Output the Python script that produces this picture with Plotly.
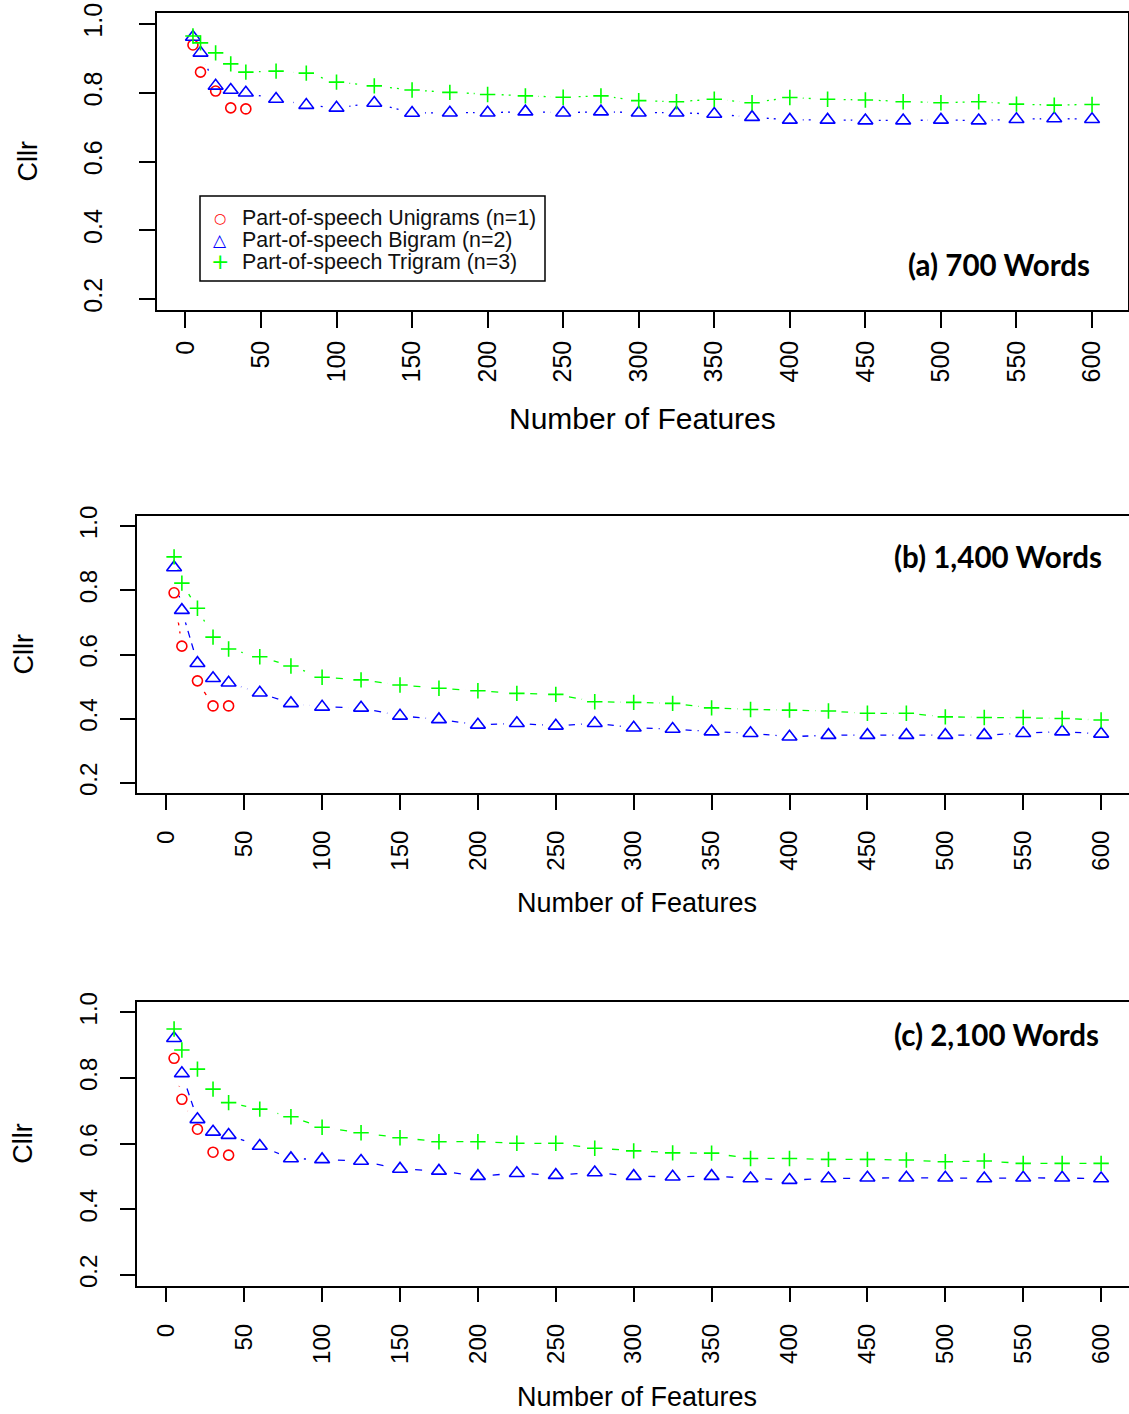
import plotly.graph_objects as go

# ---- data -------------------------------------------------------------
features = [5, 10, 20, 30, 40, 60, 80, 100, 125, 150, 175, 200, 225, 250, 275,
            300, 325, 350, 375, 400, 425, 450, 475, 500, 525, 550, 575, 600]
features_uni = [5, 10, 20, 30, 40]

x_ticks = list(range(0, 601, 50))
y_ticks = [0.2, 0.4, 0.6, 0.8, 1.0]
y_tick_text = ["0.2", "0.4", "0.6", "0.8", "1.0"]

series_names = ["Part-of-speech Unigrams (n=1)",
                "Part-of-speech Bigram (n=2)",
                "Part-of-speech Trigram (n=3)"]

# (a) 700 words
uni_700 = [0.939, 0.860, 0.805, 0.756, 0.753]
bi_700 = [0.962, 0.916, 0.820, 0.808, 0.800, 0.782, 0.764, 0.756, 0.770, 0.741,
          0.742, 0.742, 0.745, 0.742, 0.745, 0.742, 0.742, 0.738, 0.729, 0.721,
          0.721, 0.719, 0.719, 0.721, 0.719, 0.723, 0.725, 0.723]
tri_700 = [0.965, 0.945, 0.916, 0.884, 0.860, 0.863, 0.857, 0.831, 0.820, 0.808,
           0.801, 0.795, 0.791, 0.787, 0.791, 0.777, 0.774, 0.781, 0.771, 0.786,
           0.781, 0.779, 0.774, 0.771, 0.774, 0.767, 0.764, 0.766]

# (b) 1,400 words
uni_1400 = [0.792, 0.626, 0.518, 0.440, 0.440]
bi_1400 = [0.871, 0.738, 0.573, 0.526, 0.512, 0.481, 0.448, 0.437, 0.434, 0.409,
           0.398, 0.381, 0.386, 0.378, 0.386, 0.372, 0.368, 0.360, 0.355, 0.344,
           0.349, 0.349, 0.349, 0.349, 0.349, 0.355, 0.360, 0.353]
tri_1400 = [0.904, 0.822, 0.744, 0.654, 0.617, 0.593, 0.564, 0.529, 0.521, 0.505,
            0.495, 0.487, 0.479, 0.476, 0.453, 0.451, 0.448, 0.434, 0.429, 0.427,
            0.424, 0.417, 0.417, 0.406, 0.404, 0.404, 0.401, 0.396]

# (c) 2,100 words
uni_2100 = [0.860, 0.735, 0.644, 0.574, 0.565]
bi_2100 = [0.921, 0.814, 0.674, 0.636, 0.626, 0.593, 0.555, 0.552, 0.547, 0.523,
           0.517, 0.501, 0.510, 0.504, 0.512, 0.501, 0.499, 0.501, 0.494, 0.489,
           0.494, 0.496, 0.496, 0.496, 0.494, 0.496, 0.496, 0.494]
tri_2100 = [0.949, 0.885, 0.827, 0.766, 0.725, 0.705, 0.682, 0.650, 0.633, 0.618,
            0.606, 0.606, 0.601, 0.601, 0.586, 0.578, 0.572, 0.571, 0.555, 0.555,
            0.552, 0.552, 0.550, 0.545, 0.547, 0.540, 0.540, 0.540]

# ---- styling ----------------------------------------------------------
W, H = 1129, 1414
RED, BLUE, GREEN = "#ff0000", "#0000ff", "#00ff00"
FONT = "Liberation Sans, Arial, sans-serif"

panels = [
    dict(label="(a) 700 Words", data=(uni_700, bi_700, tri_700),
         box=(157, 1128, 13, 310), xmax=623.8, mirror_y=True, dash="2px,5px",
         tick_size=25, title_size=30, cllr_x=28, xtitle=(642, 418),
         label_pos=(1092, 264), x_stand=3, y_stand=27, ticklen=16),
    dict(label="(b) 1,400 Words", data=(uni_1400, bi_1400, tri_1400),
         box=(137, 1129, 515.7, 793.3), xmax=617.9, mirror_y=False, dash="7px,6px",
         tick_size=24, title_size=27, cllr_x=23, xtitle=(637, 903),
         label_pos=(1104, 556), x_stand=11, y_stand=14, ticklen=15),
    dict(label="(c) 2,100 Words", data=(uni_2100, bi_2100, tri_2100),
         box=(137, 1129, 1001.8, 1285.5), xmax=617.9, mirror_y=False, dash="7px,6px",
         tick_size=24, title_size=27, cllr_x=23, xtitle=(637, 1397),
         label_pos=(1101, 1034), x_stand=12, y_stand=14, ticklen=15),
]

colors = [RED, BLUE, GREEN]
symbols = ["circle-open", "triangle-up-open", "cross-thin-open"]
sizes = [10, 13, 11]

fig = go.Figure()
annotations = []
shapes = []

for i, p in enumerate(panels):
    k = "" if i == 0 else str(i + 1)
    xa, ya = "x" + k, "y" + k
    xs_list = [features_uni, features, features]

    # connecting lines, each followed by a white halo so lines stop short of the points
    for s in range(3):
        fig.add_trace(go.Scatter(
            x=xs_list[s], y=p["data"][s], mode="lines", xaxis=xa, yaxis=ya,
            line=dict(color=colors[s], width=1.3, dash=p["dash"]),
            showlegend=False, hoverinfo="skip"))
        fig.add_trace(go.Scatter(
            x=xs_list[s], y=p["data"][s], mode="markers", xaxis=xa, yaxis=ya,
            marker=dict(symbol="circle", size=26, color="white", line=dict(width=0)),
            showlegend=False, hoverinfo="skip"))

    # point symbols
    for s in range(3):
        fig.add_trace(go.Scatter(
            x=xs_list[s], y=p["data"][s], mode="markers", xaxis=xa, yaxis=ya,
            name=series_names[s], showlegend=False,
            marker=dict(symbol=symbols[s], size=sizes[s], color=colors[s],
                        line=dict(color=colors[s], width=1.6))))

    x0, x1, top, bot = p["box"]
    axis_common = dict(showline=True, linecolor="black", linewidth=1.5,
                       ticks="outside", ticklen=p["ticklen"], tickwidth=1.5,
                       tickcolor="black", showgrid=False, zeroline=False,
                       tickangle=-90, automargin=False,
                       tickfont=dict(family=FONT, size=p["tick_size"], color="black"))
    fig.update_layout(**{
        "xaxis" + k: dict(domain=[x0 / W, x1 / W], range=[-18.8, p["xmax"]],
                          anchor=ya, mirror=True, tickvals=x_ticks,
                          ticklabelstandoff=p["x_stand"], **axis_common),
        "yaxis" + k: dict(domain=[1 - bot / H, 1 - top / H], range=[0.168, 1.032],
                          anchor=xa, mirror=p["mirror_y"], tickvals=y_ticks,
                          ticktext=y_tick_text, ticklabelstandoff=p["y_stand"],
                          **axis_common),
    })

    cy = (top + bot) / 2
    annotations.append(dict(text="Cllr", x=p["cllr_x"] / W, y=1 - cy / H,
                            xref="paper", yref="paper", showarrow=False,
                            textangle=-90, xanchor="center", yanchor="middle",
                            font=dict(family=FONT, size=27, color="black")))
    annotations.append(dict(text="Number of Features", x=p["xtitle"][0] / W,
                            y=1 - p["xtitle"][1] / H, xref="paper", yref="paper",
                            showarrow=False, xanchor="center", yanchor="middle",
                            font=dict(family=FONT, size=p["title_size"], color="black")))
    annotations.append(dict(text="<b>" + p["label"] + "</b>", x=p["label_pos"][0] / W,
                            y=1 - p["label_pos"][1] / H, xref="paper", yref="paper",
                            showarrow=False, xanchor="right", yanchor="middle",
                            font=dict(family="Lato, sans-serif", size=29.5, color="black")))

# legend box for panel (a): frame, key glyphs and series names
leg_left, leg_right, leg_top, leg_bot = 200, 545, 196, 281
shapes.append(dict(type="rect", xref="paper", yref="paper",
                   x0=leg_left / W, x1=leg_right / W,
                   y0=1 - leg_bot / H, y1=1 - leg_top / H,
                   line=dict(color="black", width=1.5), fillcolor="white", layer="above"))
key_glyphs = ["○", "△", "+"]
key_sizes = [14, 17, 22]
row_y = [218, 240, 262]
for s in range(3):
    annotations.append(dict(text=key_glyphs[s], x=220 / W, y=1 - row_y[s] / H,
                            xref="paper", yref="paper", showarrow=False,
                            xanchor="center", yanchor="middle",
                            font=dict(family="DejaVu Sans", size=key_sizes[s], color=colors[s])))
    annotations.append(dict(text=series_names[s], x=240 / W, y=1 - row_y[s] / H,
                            xref="paper", yref="paper", showarrow=False,
                            xanchor="left", yanchor="middle",
                            font=dict(family=FONT, size=21.4, color="#111111")))

fig.update_layout(
    width=W, height=H, margin=dict(l=0, r=0, t=0, b=0, autoexpand=False),
    paper_bgcolor="white", plot_bgcolor="white",
    annotations=annotations, shapes=shapes, showlegend=False,
)

fig.write_html("out.html")
